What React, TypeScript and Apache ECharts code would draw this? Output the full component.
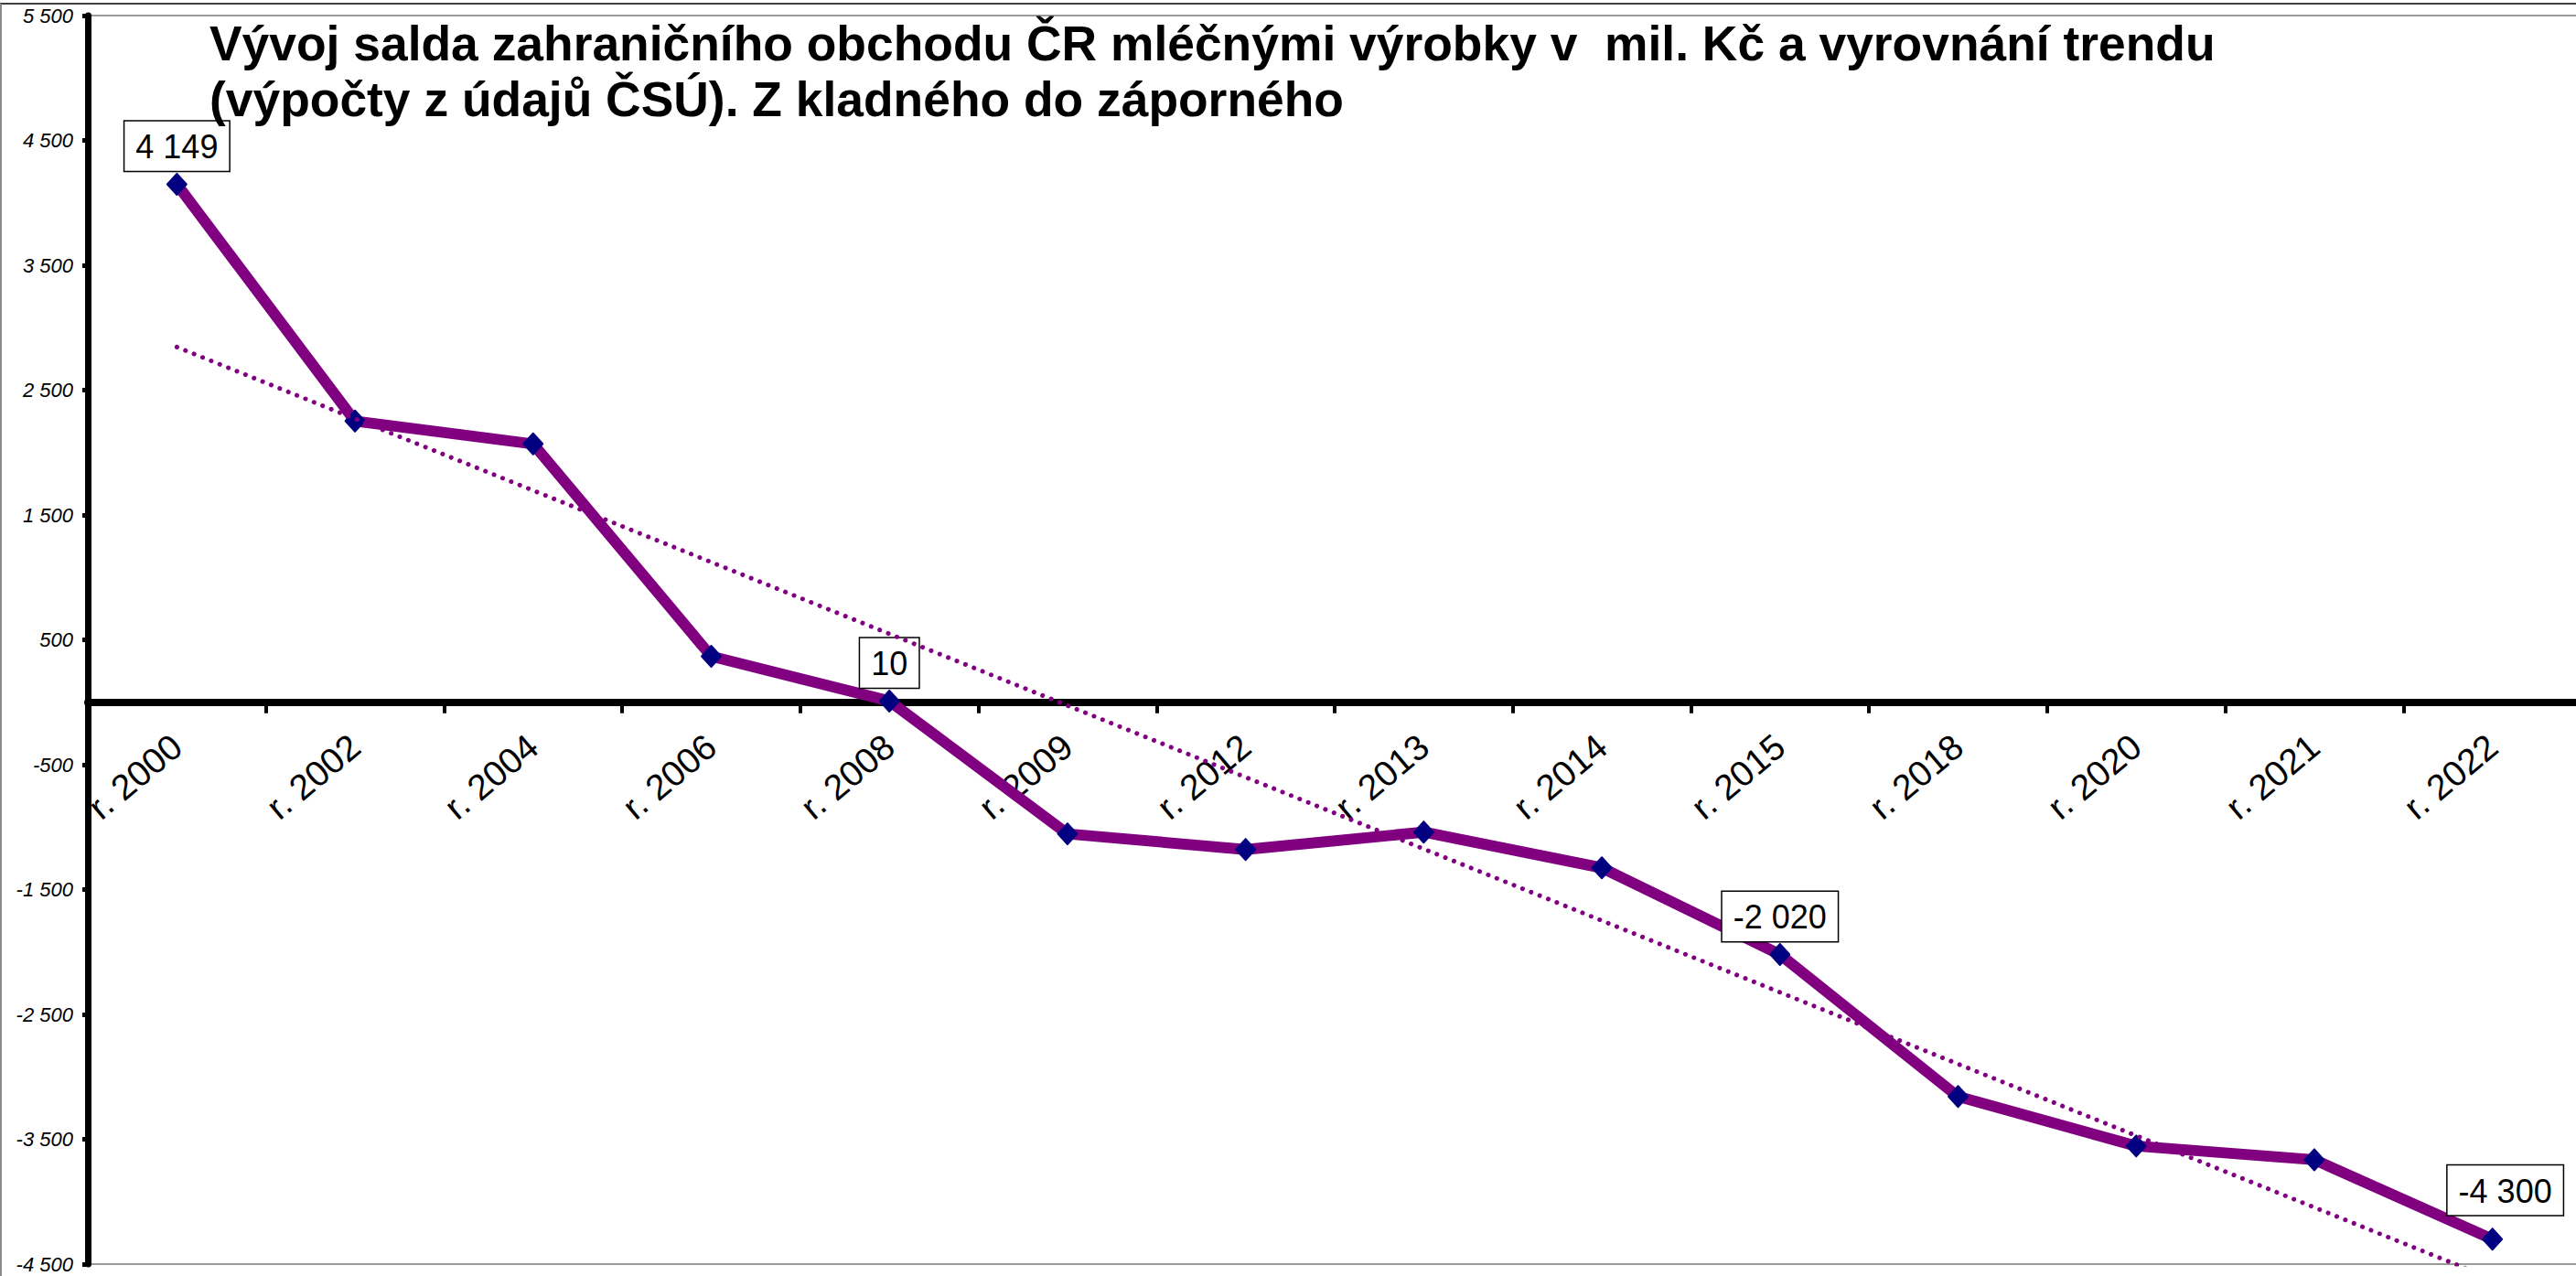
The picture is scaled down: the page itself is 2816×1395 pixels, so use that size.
import React, { useEffect, useRef } from "react";
import * as echarts from "echarts";

const categories = [
  "r. 2000", "r. 2002", "r. 2004", "r. 2006", "r. 2008", "r. 2009", "r. 2012",
  "r. 2013", "r. 2014", "r. 2015", "r. 2018", "r. 2020", "r. 2021", "r. 2022",
];
const balanceValues = [4149, 2252, 2069, 368, 10, -1054, -1179, -1040, -1326, -2020, -3158, -3554, -3664, -4300];
const labeledIndexes = [0, 4, 9, 13];
// linear trend: value at first and last category
const trendStart = 2845;
const trendEnd = -4620;

const titleLines = [
  "Vývoj salda zahraničního obchodu ČR mléčnými výrobky v  mil. Kč a vyrovnání trendu",
  "(výpočty z údajů ČSÚ). Z kladného do záporného",
];

const FONT = "'Liberation Sans', Arial, Helvetica, sans-serif";
const Y_MIN = -4500;
const Y_MAX = 5500;
const GRID_TOP = 17;
const GRID_BOTTOM = 13;
const HEIGHT = 1395;

function fmt(v: number): string {
  const s = Math.abs(Math.round(v)).toString().replace(/\B(?=(\d{3})+(?!\d))/g, " ");
  return (v < 0 ? "-" : "") + s;
}

export default function App() {
  const ref = useRef<HTMLDivElement>(null);
  useEffect(() => {
    if (!ref.current) return;
    const chart = echarts.init(ref.current, null, { renderer: "svg" });
    const labelBase = {
      show: true,
      position: "top",
      distance: 2,
      color: "#000",
      fontFamily: FONT,
      fontSize: 36,
      lineHeight: 40,
      backgroundColor: "#fff",
      borderColor: "#000",
      borderWidth: 1.5,
      padding: [8, 12, 6, 12],
      formatter: (p: any) => fmt(p.value),
    };
    const seriesData = balanceValues.map((v, i) => {
      if (!labeledIndexes.includes(i)) return v;
      const lbl: any = { ...labelBase };
      if (i === balanceValues.length - 1) lbl.offset = [14, -12];
      return { value: v, label: lbl };
    });
    const last = categories.length - 1;
    const plotH = HEIGHT - GRID_TOP - GRID_BOTTOM;
    const zeroFromBottom = (0 - Y_MIN) / (Y_MAX - Y_MIN) * plotH;
    chart.setOption({
      animation: false,
      backgroundColor: "#fff",
      title: {
        text: titleLines.join("\n"),
        left: 224,
        top: 12,
        textStyle: {
          fontFamily: FONT,
          fontSize: 53.4,
          fontWeight: "bold",
          color: "#000",
          lineHeight: 61,
        },
      },
      graphic: [
        { type: "line", shape: { x1: 0, y1: 4, x2: 2816, y2: 4 }, style: { stroke: "#404040", lineWidth: 2 } },
        { type: "line", shape: { x1: 1, y1: 4, x2: 1, y2: 1395 }, style: { stroke: "#8a8a8a", lineWidth: 2 } },
      ],
      grid: {
        left: 96,
        right: -6,
        top: GRID_TOP,
        bottom: GRID_BOTTOM,
        show: true,
        borderColor: "#9a9a9a",
        borderWidth: 2,
        backgroundColor: "transparent",
        outerBoundsMode: "none",
        containLabel: false,
      },
      xAxis: {
        type: "category",
        data: categories,
        boundaryGap: true,
        position: "bottom",
        offset: -zeroFromBottom,
        axisLine: { show: true, onZero: false, lineStyle: { color: "#000", width: 8 } },
        axisTick: { show: true, length: 12, lineStyle: { color: "#000", width: 4 } },
        axisLabel: {
          interval: 0,
          rotate: 40,
          margin: 43,
          color: "#000",
          fontFamily: FONT,
          fontSize: 39,
        },
        splitLine: { show: false },
      },
      yAxis: {
        type: "value",
        min: Y_MIN,
        max: Y_MAX,
        interval: 1000,
        axisLine: { show: true, lineStyle: { color: "#000", width: 7 } },
        axisTick: { show: true, length: 6, lineStyle: { color: "#000", width: 5 } },
        axisLabel: {
          color: "#000",
          fontFamily: FONT,
          fontSize: 22,
          fontStyle: "italic",
          margin: 16,
          formatter: (v: number) => fmt(v),
        },
        splitLine: { show: false },
      },
      series: [
        {
          type: "line",
          data: seriesData,
          symbol: "diamond",
          symbolSize: [21, 23],
          showAllSymbol: true,
          lineStyle: { color: "#800080", width: 12, join: "round" },
          itemStyle: { color: "#000080", borderColor: "#000080", borderWidth: 2, borderJoin: "round" },
          z: 3,
        },
        {
          type: "line",
          data: [[0, trendStart], [last, trendEnd]],
          symbol: "none",
          clip: true,
          lineStyle: { color: "#800080", width: 5, type: [0.1, 10], cap: "round" },
          z: 4,
          silent: true,
        },
      ],
    });
    return () => chart.dispose();
  }, []);
  return (
    <div
      ref={ref}
      style={{ position: "fixed", left: 0, top: 0, width: 2816, height: HEIGHT, background: "#fff" }}
    />
  );
}
